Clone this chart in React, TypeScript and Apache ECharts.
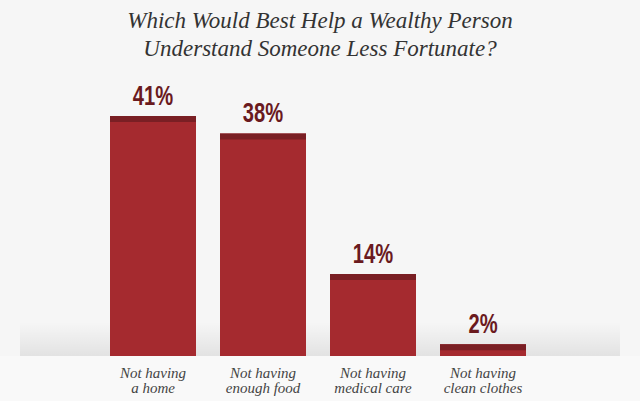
import React, { useEffect, useRef } from "react";
import * as echarts from "echarts";

const categories = ["Not having\na home", "Not having\nenough food", "Not having\nmedical care", "Not having\nclean clothes"];
const values = [41, 38, 14, 2];
const titleLines = ["Which Would Best Help a Wealthy Person", "Understand Someone Less Fortunate?"];

const SERIF = "'Liberation Serif', 'DejaVu Serif', serif";

export default function App() {
  const ref = useRef<HTMLDivElement>(null);
  useEffect(() => {
    const chart = echarts.init(ref.current!, null, { renderer: "svg" });
    chart.setOption({
      animation: false,
      backgroundColor: "#f6f6f6",
      title: {
        text: titleLines.join("\n"),
        left: "center",
        top: 1,
        textStyle: {
          fontFamily: SERIF,
          fontStyle: "italic",
          fontWeight: "normal",
          fontSize: 23,
          lineHeight: 28,
          color: "#333333",
        },
      },
      graphic: [
        {
          type: "rect",
          silent: true,
          z: -10,
          shape: { x: 0, y: 356, width: 640, height: 45 },
          style: { fill: "#f9f9f9" },
        },
        {
          type: "rect",
          silent: true,
          z: -10,
          shape: { x: 20, y: 322, width: 600, height: 34 },
          style: {
            fill: new echarts.graphic.LinearGradient(0, 0, 0, 1, [
              { offset: 0, color: "rgba(0,0,0,0)" },
              { offset: 1, color: "rgba(0,0,0,0.08)" },
            ]),
          },
        },
      ],
      grid: { left: 98, right: 102, top: 116, bottom: 45 },
      xAxis: {
        type: "category",
        data: categories,
        axisLine: { show: false },
        axisTick: { show: false },
        axisLabel: {
          margin: 9,
          fontFamily: SERIF,
          fontStyle: "italic",
          fontSize: 15,
          lineHeight: 15,
          color: "#444444",
        },
      },
      yAxis: {
        type: "value",
        min: 0,
        max: 41,
        show: false,
        splitLine: { show: false },
      },
      series: [
        {
          type: "custom",
          data: values,
          renderItem: (params: any, api: any) => {
            const idx = params.dataIndex;
            const v = api.value(1);
            const top = api.coord([idx, v]);
            const base = api.coord([idx, 0]);
            const w = 86;
            const x = top[0] - w / 2;
            const h = base[1] - top[1];
            const strip = Math.min(6, h);
            return {
              type: "group",
              children: [
                {
                  type: "rect",
                  shape: { x, y: top[1], width: w, height: h },
                  style: { fill: "#a52a2f" },
                },
                {
                  type: "rect",
                  shape: { x, y: top[1], width: w, height: strip },
                  style: { fill: "#7a1f24" },
                },
                {
                  type: "text",
                  x: top[0],
                  y: top[1] - 7,
                  scaleX: 0.72,
                  style: {
                    text: v + "%",
                    align: "center",
                    verticalAlign: "bottom",
                    fontFamily: "'Liberation Sans', Arial, sans-serif",
                    fontWeight: "bold",
                    fontSize: 28,
                    fill: "#6a1a1e",
                  },
                },
              ],
            };
          },
          encode: { x: 0, y: 1 },
        },
      ],
    });
    return () => chart.dispose();
  }, []);
  return <div ref={ref} style={{ width: 640, height: 401, position: "absolute", left: 0, top: 0 }} />;
}
